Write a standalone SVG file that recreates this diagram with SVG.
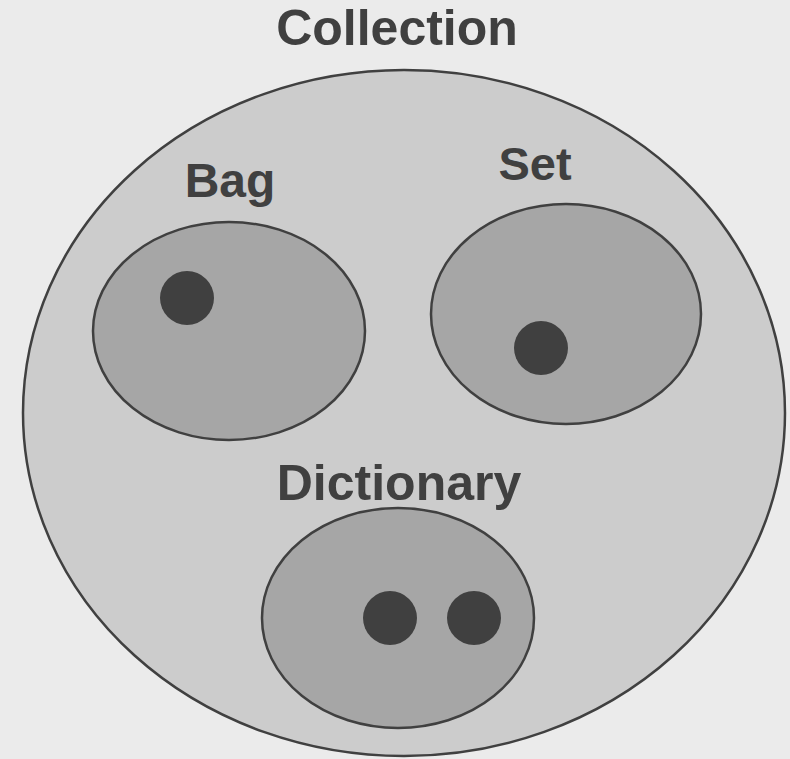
<svg xmlns="http://www.w3.org/2000/svg" width="790" height="759" viewBox="0 0 790 759">
<style>
.lbl{font-family:"Liberation Sans",Arial,sans-serif;font-weight:bold;fill:#404040;text-anchor:middle}
.outer{fill:#cccccc;stroke:#404040;stroke-width:2.5}
.inner{fill:#a6a6a6;stroke:#404040;stroke-width:2.5}
.dot{fill:#404040}
</style>
<rect width="790" height="759" fill="#ebebeb"/>
<g id="collection">
<ellipse class="outer" cx="404" cy="413" rx="381" ry="343"/>
<text class="lbl" x="397" y="45" font-size="50">Collection</text>
</g>
<g id="bag">
<text class="lbl" x="230" y="197" font-size="48">Bag</text>
<ellipse class="inner" cx="229" cy="331" rx="136" ry="109"/>
<circle class="dot" cx="187" cy="298" r="27"/>
</g>
<g id="set">
<text class="lbl" x="535" y="180" font-size="47">Set</text>
<ellipse class="inner" cx="566" cy="314" rx="135" ry="110"/>
<circle class="dot" cx="541" cy="348" r="27"/>
</g>
<g id="dictionary">
<text class="lbl" x="399" y="500" font-size="50">Dictionary</text>
<ellipse class="inner" cx="398" cy="618" rx="136" ry="110"/>
<circle class="dot" cx="390" cy="618" r="27"/>
<circle class="dot" cx="474" cy="618" r="27"/>
</g>
<g id="connectors"/>
</svg>
